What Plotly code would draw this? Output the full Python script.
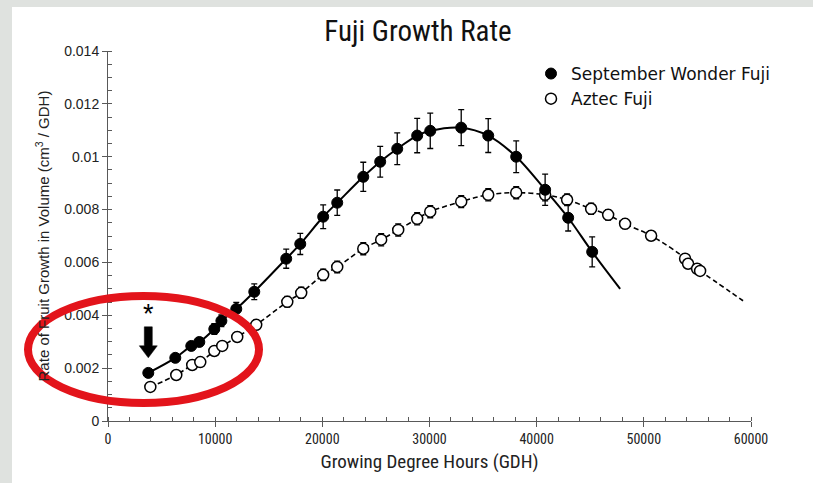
import plotly.graph_objects as go

# ---- data ----
sw_x = [3760, 6280, 7770, 8520, 9920, 10580, 11970, 13650, 16630, 17940, 20080, 21390,
        23820, 25400, 26990, 28850, 30070, 32960, 35480, 38090, 40790, 42940, 45180]
sw_y = [0.00182, 0.00239, 0.00284, 0.00299, 0.00348, 0.00379, 0.00424, 0.00489, 0.00614,
        0.00670, 0.00773, 0.00826, 0.00924, 0.00981, 0.01030, 0.01080, 0.01098, 0.01110,
        0.01080, 0.01000, 0.00875, 0.00769, 0.00640]
sw_err = [0.00010, 0.00012, 0.00015, 0.00016, 0.00020, 0.00022, 0.00025, 0.00030, 0.00036,
          0.00040, 0.00045, 0.00048, 0.00055, 0.00058, 0.00060, 0.00065, 0.00067, 0.00068,
          0.00064, 0.00060, 0.00059, 0.00050, 0.00057]
sw_trend_end_x = [47790]
sw_trend_end_y = [0.00500]

az_x = [3950, 6370, 7860, 8610, 9920, 10660, 12060, 13830, 16730, 18030, 20080, 21390,
        23820, 25490, 27080, 28850, 30070, 32960, 35480, 38090, 40790, 42840, 45080,
        46670, 48250, 50680, 53850, 54130, 54970, 55250]
az_y = [0.00129, 0.00174, 0.00212, 0.00223, 0.00265, 0.00284, 0.00318, 0.00364, 0.00451,
        0.00485, 0.00553, 0.00583, 0.00652, 0.00686, 0.00723, 0.00765, 0.00792, 0.00830,
        0.00856, 0.00864, 0.00856, 0.00837, 0.00803, 0.00780, 0.00746, 0.00701, 0.00614,
        0.00595, 0.00576, 0.00568]
az_err = [0.00010, 0.00012, 0.00013, 0.00014, 0.00015, 0.00016, 0.00017, 0.00018, 0.00020,
          0.00021, 0.00022, 0.00022, 0.00023, 0.00023, 0.00023, 0.00023, 0.00023, 0.00023,
          0.00023, 0.00023, 0.00023, 0.00022, 0.00021, 0.00020, 0.00018, 0.00017, 0.00016,
          0.00015, 0.00015, 0.00015]
az_trend_end_x = [59260]
az_trend_end_y = [0.00455]

x_ticks = [0, 10000, 20000, 30000, 40000, 50000, 60000]
x_ticktext = ["0", "10000", "20000", "30000", "40000", "50000", "60000"]
y_ticks = [0, 0.002, 0.004, 0.006, 0.008, 0.01, 0.012, 0.014]
y_ticktext = ["0", "0.002", "0.004", "0.006", "0.008", "0.01", "0.012", "0.014"]

highlight_x = sw_x[0]
highlight_arrow_tip_y = 0.00239
highlight_star_y = 0.00403

X_RANGE = [0, 60000]
Y_RANGE = [0, 0.014]

NARROW = "Liberation Sans Narrow, Roboto Condensed, Arial Narrow, sans-serif"
SANS = "Liberation Sans, Arial, sans-serif"
WIDE = "DejaVu Sans, Liberation Sans, sans-serif"

fig = go.Figure()

# trend lines
fig.add_trace(go.Scatter(x=sw_x + sw_trend_end_x, y=sw_y + sw_trend_end_y, mode="lines",
                         line=dict(color="black", width=2, shape="spline"),
                         showlegend=False, hoverinfo="skip"))
fig.add_trace(go.Scatter(x=az_x + az_trend_end_x, y=az_y + az_trend_end_y, mode="lines",
                         line=dict(color="black", width=1.6, shape="spline", dash="5px,3px"),
                         showlegend=False, hoverinfo="skip"))

# markers
fig.add_trace(go.Scatter(x=az_x, y=az_y, mode="markers", name="Aztec Fuji",
                         marker=dict(symbol="circle", size=11, color="white",
                                     line=dict(color="black", width=1.5)),
                         error_y=dict(type="data", array=az_err, color="black",
                                      thickness=1.3, width=3)))
fig.add_trace(go.Scatter(x=sw_x, y=sw_y, mode="markers", name="September Wonder Fuji",
                         marker=dict(symbol="circle", size=11, color="black",
                                     line=dict(color="black", width=1)),
                         error_y=dict(type="data", array=sw_err, color="black",
                                      thickness=1.3, width=3)))

# paper coordinate helpers (plot area 108..751 px, 51..421 px)
L, R, T, B = 108, 62, 51, 62
W, H = 813, 483
pw, ph = W - L - R, H - T - B
def px(x):
    return (x - L) / pw
def py(y):
    return (H - B - y) / ph

# pixel position of the highlighted point's arrow tip, derived from the data
tip_px = L + (highlight_x - X_RANGE[0]) / (X_RANGE[1] - X_RANGE[0]) * pw
tip_py = H - B - (highlight_arrow_tip_y - Y_RANGE[0]) / (Y_RANGE[1] - Y_RANGE[0]) * ph
shaft_half, head_half, head_len, shaft_len = 4, 9, 12, 19
arrow_pts = [
    (tip_px - shaft_half, tip_py - head_len - shaft_len),
    (tip_px + shaft_half, tip_py - head_len - shaft_len),
    (tip_px + shaft_half, tip_py - head_len),
    (tip_px + head_half, tip_py - head_len),
    (tip_px, tip_py),
    (tip_px - head_half, tip_py - head_len),
    (tip_px - shaft_half, tip_py - head_len),
]
arrow_path = "M " + " L ".join(f"{px(a):.5f},{py(b):.5f}" for a, b in arrow_pts) + " Z"

GREY = "#dfe2df"
shapes = [
    # grey frame strips (top and left)
    dict(type="rect", xref="paper", yref="paper", x0=px(-5), x1=px(840), y0=py(7), y1=py(-5),
         fillcolor=GREY, line=dict(width=0), layer="below"),
    dict(type="rect", xref="paper", yref="paper", x0=px(-5), x1=px(12), y0=py(500), y1=py(-5),
         fillcolor=GREY, line=dict(width=0), layer="below"),
    # red highlight ellipse
    dict(type="circle", xref="paper", yref="paper", x0=px(28), x1=px(259), y0=py(403), y1=py(296),
         line=dict(color="#e3141b", width=8), fillcolor="rgba(0,0,0,0)", layer="above"),
    # thick down arrow
    dict(type="path", xref="paper", yref="paper", path=arrow_path,
         fillcolor="black", line=dict(color="black", width=0.5), layer="above"),
]

annotations = [
    dict(x=highlight_x, y=highlight_star_y, xref="x", yref="y", text="*",
         showarrow=False, font=dict(family=SANS, size=27, color="black")),
]

fig.update_layout(
    width=W, height=H,
    margin=dict(l=L, r=R, t=T, b=B),
    paper_bgcolor="white", plot_bgcolor="white",
    title=dict(text="Fuji Growth Rate", x=418 / W, xanchor="center", y=1 - 31 / H, yanchor="middle",
               font=dict(family=NARROW, size=29, color="#111111")),
    legend=dict(x=px(531), y=py(56), xanchor="left", yanchor="top", bgcolor="rgba(0,0,0,0)",
                font=dict(family=WIDE, size=17, color="#111111"), traceorder="reversed",
                tracegroupgap=0),
    shapes=shapes, annotations=annotations,
    showlegend=True,
)

fig.update_xaxes(range=X_RANGE, tickvals=x_ticks, ticktext=x_ticktext,
                 showgrid=False, zeroline=False, showline=True, linecolor="#595959", linewidth=1,
                 ticks="outside", ticklen=5, tickcolor="#595959",
                 minor=dict(dtick=2000, ticks="inside", ticklen=4, tickcolor="#595959", showgrid=False),
                 tickfont=dict(family=NARROW, size=14, color="#222222"),
                 title=dict(text="Growing Degree Hours (GDH)", standoff=8,
                            font=dict(family=NARROW, size=19, color="#222222")))
fig.update_yaxes(range=Y_RANGE, tickvals=y_ticks, ticktext=y_ticktext,
                 showgrid=False, zeroline=False, showline=True, linecolor="#595959", linewidth=1,
                 ticks="outside", ticklen=5, tickcolor="#595959",
                 minor=dict(dtick=0.0005, ticks="inside", ticklen=4, tickcolor="#595959", showgrid=False),
                 tickfont=dict(family=SANS, size=14, color="#222222"),
                 title=dict(text="Rate of Fruit Growth in Volume (cm<sup>3</sup> / GDH)", standoff=10,
                            font=dict(family=SANS, size=15, color="#222222")))

page_js = ("document.documentElement.style.overflow='hidden';"
           "document.body.style.margin='0';document.body.style.overflow='hidden';")
fig.write_html("out.html", post_script=page_js, config={"displayModeBar": False})
